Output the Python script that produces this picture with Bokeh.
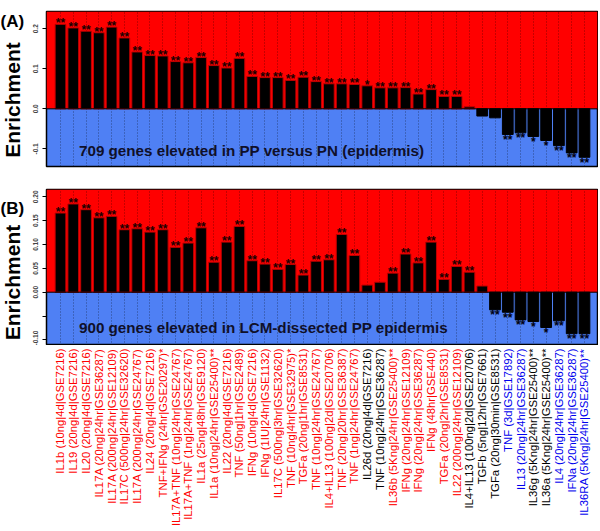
import math
from bokeh.plotting import figure
from bokeh.layouts import column, row
from bokeh.models import (ColumnDataSource, BoxAnnotation, Span, Label,
                          FixedTicker, PrintfTickFormatter, Grid, Range1d)
from bokeh.core.properties import value
from bokeh.embed import file_html
from bokeh.resources import INLINE

# ---------------- data ----------------
labels = [
    "IL1b (10ng|4d|GSE7216)", "IL19 (20ng|4d|GSE7216)", "IL20 (20ng|4d|GSE7216)",
    "IL17A (20ng|24hr|GSE36287)", "IL17A (200ng|24hr|GSE12109)", "IL17C (500ng|24hr|GSE32620)",
    "IL17A (200ng|24hr|GSE24767)", "IL24 (20ng|4d|GSE7216)", "TNF+IFNg (24hr|GSE20297)*",
    "IL17A+TNF (10ng|24hr|GSE24767)", "IL17A+TNF (1ng|24hr|GSE24767)", "IL1a (25ng|48hr|GSE9120)",
    "IL1a (10ng|24hr|GSE25400)**", "IL22 (20ng|4d|GSE7216)", "TNF (50ng|1hr|GSE2489)",
    "IFNg (10ng|4d|GSE7216)", "IFNg (1IU|24hr|GSE1132)", "IL17C (500ng|3hr|GSE32620)",
    "TNF (10ng|4hr|GSE32975)*", "TGFa (20ng|1hr|GSE8531)", "TNF (10ng|24hr|GSE24767)",
    "IL4+IL13 (100ng|2d|GSE20706)", "TNF (20ng|20hr|GSE36387)", "TNF (1ng|24hr|GSE24767)",
    "IL26d (20ng|4d|GSE7216)", "TNF (10ng|24hr|GSE36287)", "IL36b (5Kng|24hr|GSE25400)**",
    "IFNg (20ng|24hr|GSE12109)", "IFNg (20ng|24hr|GSE36287)", "IFNg (48hr|GSE440)",
    "TGFa (20ng|2hr|GSE8531)", "IL22 (200ng|24hr|GSE12109)", "IL4+IL13 (100ng|2d|GSE20706)",
    "TGFb (5ng|12hr|GSE7661)", "TGFa (20ng|30min|GSE8531)", "TNF (3d|GSE17892)",
    "IL13 (20ng|24hr|GSE36287)", "IL36g (5Kng|24hr|GSE25400)**", "IL36a (5Kng|24hr|GSE25400)**",
    "IL4 (20ng|24hr|GSE36287)", "IFNa (20ng|24hr|GSE36287)", "IL36RA (5Kng|24hr|GSE25400)**",
]
label_colors = (["red"] * 24 + ["black", "black"] + ["red"] * 6 +
                ["black", "black", "black", "blue", "blue", "black", "black",
                 "blue", "blue", "blue"])

enrich_A = [0.211, 0.202, 0.194, 0.190, 0.204, 0.177, 0.142, 0.133, 0.132, 0.118,
            0.115, 0.128, 0.108, 0.102, 0.126, 0.081, 0.078, 0.078, 0.071, 0.079,
            0.068, 0.0625, 0.0625, 0.061, 0.0575, 0.0525, 0.0525, 0.053, 0.037, 0.048,
            0.031, 0.031, 0.005, -0.018, -0.0225, -0.064, -0.060, -0.069, -0.079, -0.092,
            -0.110, -0.121]
stars_A = ["**"] * 24 + ["*"] + ["**"] * 7 + ["", "", ""] + ["**", "**", "*", "*", "**", "**", "**"]

enrich_B = [0.166, 0.185, 0.173, 0.156, 0.159, 0.131, 0.133, 0.126, 0.131, 0.094,
            0.103, 0.135, 0.063, 0.105, 0.138, 0.066, 0.059, 0.048, 0.058, 0.036,
            0.065, 0.068, 0.121, 0.077, 0.015, 0.021, 0.040, 0.080, 0.0615, 0.105,
            0.027, 0.054, 0.042, 0.013, -0.037, -0.042, -0.058, -0.0615, -0.074, -0.060,
            -0.087, -0.087]
stars_B = ["**"] * 24 + ["", ""] + ["**"] * 7 + [""] + ["**", "**", "**", "*", "*", "**", "**", "**"]

yticks_A = [-0.1, 0.0, 0.1, 0.2]
yticks_B = [-0.10, -0.05, 0.0, 0.05, 0.10, 0.15, 0.20]
note_A = "709 genes elevated in PP versus PN (epidermis)"
note_B = "900 genes elevated in LCM-dissected PP epidermis"
y_title = "Enrichment"

# ---------------- style ----------------
RED = "#ff0000"
BLUE = "#4f80f4"
FONT = "Liberation Sans"
X_START, X_END = -0.095, 43.02
FRAME_W = 551
AXIS_W = 16
SIDE_W = 30
STAR_SIZE = "12px"
COLORS = {"red": "#ff0000", "black": "#000000", "blue": "#0000ee"}

shared_x = Range1d(X_START, X_END)


def side(tag, height, frame_top, frame_h, tag_y):
    s = figure(x_range=Range1d(0, SIDE_W), y_range=Range1d(height, 0),
               frame_width=SIDE_W, frame_height=height, min_border=0,
               x_axis_location=None, y_axis_location=None,
               toolbar_location=None, output_backend="svg")
    s.outline_line_color = None
    s.background_fill_color = "white"
    for g in s.grid:
        g.visible = False
    s.text(x=[0], y=[tag_y], text=[tag], text_align="left", text_baseline="middle",
           text_font=value(FONT), text_font_style="bold", text_font_size="17px",
           text_color="black")
    s.text(x=[12], y=[frame_top + frame_h / 2], text=[y_title], angle=math.pi / 2,
           text_align="center", text_baseline="middle", text_font=value(FONT),
           text_font_style="bold", text_font_size="21px", text_color="black")
    return s


def panel(vals, stars, ylo, yhi, frame_h, top_b, bot_b, ticks, fmt, note, note_y):
    xs = list(range(1, len(vals) + 1))
    p = figure(x_range=shared_x, y_range=Range1d(ylo, yhi),
               frame_width=FRAME_W, frame_height=frame_h,
               min_border_left=AXIS_W, min_border_right=1,
               min_border_top=top_b, min_border_bottom=bot_b,
               x_axis_location=None, toolbar_location=None, output_backend="svg")
    p.background_fill_color = BLUE
    p.border_fill_color = "white"
    p.outline_line_color = "black"
    p.outline_line_width = 1.5
    for g in p.grid:
        g.visible = False

    p.add_layout(BoxAnnotation(bottom=0, fill_color=RED, fill_alpha=1.0,
                               line_color=None, level="image"))
    p.add_layout(Grid(dimension=0, ticker=FixedTicker(ticks=xs),
                      grid_line_color="black", grid_line_alpha=0.45,
                      grid_line_dash="1 2", grid_line_width=1))

    src = ColumnDataSource(dict(x=xs, top=vals,
                                edge=["#c00000" if v > 0 else "black" for v in vals]))
    p.vbar(x="x", top="top", bottom=0, width=0.84, fill_color="black",
           line_color="edge", line_width=1, source=src)

    pos = [i for i, v in enumerate(vals) if v > 0 and stars[i]]
    neg = [i for i, v in enumerate(vals) if v <= 0 and stars[i]]
    p.text(x=[xs[i] for i in pos], y=[vals[i] for i in pos], text=[stars[i] for i in pos],
           text_align="center", text_baseline="bottom", y_offset=6,
           text_font=value(FONT), text_font_style="bold", text_font_size=STAR_SIZE,
           text_color="#1a0000")
    p.text(x=[xs[i] for i in neg], y=[vals[i] for i in neg], text=[stars[i] for i in neg],
           text_align="center", text_baseline="top", y_offset=-1.5,
           text_font=value(FONT), text_font_style="bold", text_font_size=STAR_SIZE,
           text_color="#000010")

    p.add_layout(Span(location=0, dimension="width", line_color="black", line_width=1))

    ax = p.yaxis[0]
    ax.ticker = FixedTicker(ticks=ticks)
    ax.formatter = PrintfTickFormatter(format=fmt)
    if fmt == "%.2f":
        ax.major_label_overrides = {-0.05: ""}
    ax.major_label_orientation = "vertical"
    ax.major_label_text_font = FONT
    ax.major_label_text_font_size = "6.5px"
    ax.major_label_text_font_style = "bold"
    ax.major_label_standoff = 4
    ax.major_tick_out = 4
    ax.major_tick_in = 0
    ax.minor_tick_out = 0
    ax.minor_tick_in = 0
    ax.axis_line_color = None

    p.add_layout(Label(x=2.45, y=note_y, text=note, text_font=FONT, text_font_style="bold",
                       text_font_size="15.2px", text_align="left", text_baseline="middle",
                       text_color="#10102a"))
    return p


# panel A: 11 + 155 + 8 = 174 px tall
pA = panel(enrich_A, stars_A, -0.144, 0.243, 155, 11, 8, yticks_A, "%.1f", note_A, -0.104)
sA = side("(A)", 174, 11, 155, 10)
# panel B: 15 + 156 + 0 = 171 px tall
pB = panel(enrich_B, stars_B, -0.1117, 0.2153, 156, 15, 0, yticks_B, "%.2f", note_B, -0.073)
sB = side("(B)", 171, 15, 156, 19)

# category labels under panel B
LAB_H = 185
pC = figure(x_range=shared_x, y_range=Range1d(LAB_H, 0),
            frame_width=FRAME_W, frame_height=LAB_H,
            min_border_left=SIDE_W + AXIS_W, min_border_right=1,
            min_border_top=0, min_border_bottom=0,
            x_axis_location=None, y_axis_location=None,
            toolbar_location=None, output_backend="svg")
pC.outline_line_color = None
for g in pC.grid:
    g.visible = False
lab_src = ColumnDataSource(dict(x=list(range(1, len(labels) + 1)), y=[3] * len(labels),
                                text=labels, color=[COLORS[c] for c in label_colors]))
pC.text(x="x", y="y", text="text", source=lab_src, angle=math.pi / 2,
        text_align="right", text_baseline="middle", text_color="color",
        text_font=value(FONT), text_font_size="11.3px")

layout = column(row(sA, pA), row(sB, pB), pC)
open("out.html", "w").write(file_html(layout, INLINE, title="Enrichment"))
